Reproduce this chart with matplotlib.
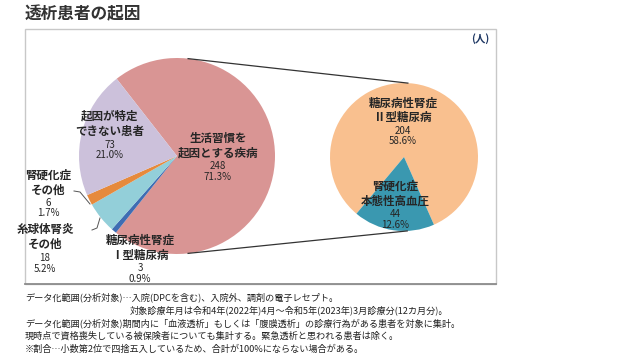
import numpy as np
import matplotlib
matplotlib.use("Agg")
import matplotlib.pyplot as plt
from matplotlib.patches import Rectangle

plt.rcParams['font.family'] = ['Noto Sans CJK JP', 'DejaVu Sans']

# ---- data ----
title = '透析患者の起因'
unit = '(人)'
main_labels = ['生活習慣を\n起因とする疾病', '糖尿病性腎症\nⅠ型糖尿病', '糸球体腎炎\nその他',
               '腎硬化症\nその他', '起因が特定\nできない患者']
main_values = [248, 3, 18, 6, 73]
main_pcts = ['71.3%', '0.9%', '5.2%', '1.7%', '21.0%']
main_colors = ['#D99594', '#3E6DB3', '#93CFD9', '#E68A3C', '#CCC1DB']

sub_labels = ['糖尿病性腎症\nⅡ型糖尿病', '腎硬化症\n本態性高血圧']
sub_values = [204, 44]
sub_pcts = ['58.6%', '12.6%']
sub_colors = ['#F9C08F', '#3A98B0']

notes = [
    'データ化範囲(分析対象)…入院(DPCを含む)、入院外、調剤の電子レセプト。',
    '対象診療年月は令和4年(2022年)4月～令和5年(2023年)3月診療分(12カ月分)。',
    'データ化範囲(分析対象)期間内に「血液透析」もしくは「腹膜透析」の診療行為がある患者を対象に集計。',
    '現時点で資格喪失している被保険者についても集計する。緊急透析と思われる患者は除く。',
    '※割合…小数第2位で四捨五入しているため、合計が100%にならない場合がある。',
]

W, H = 631, 363
def fy(y):
    return H - y

fig = plt.figure(figsize=(W / 100, H / 100), dpi=100)
ax = fig.add_axes([0, 0, 1, 1])

# frame
ax.add_patch(Rectangle((25, fy(284)), 471, 255, fill=False, edgecolor='#C8C8C8', lw=1.0, zorder=0))
ax.plot([25, 496], [fy(284), fy(284)], color='#8C8C8C', lw=1.3, zorder=1)

# main pie
mc = (177, fy(156)); mr = 98
ax.pie(main_values, colors=main_colors, startangle=128, counterclock=False,
       center=mc, radius=mr, wedgeprops=dict(linewidth=0), frame=True)

# sub pie
sc = (404, fy(157)); sr = 74
ax.pie(sub_values, colors=sub_colors, startangle=230, counterclock=False,
       center=sc, radius=sr, wedgeprops=dict(linewidth=0), frame=True)

# connector lines
for a1, a2 in [(83.5, 87), (-83.5, -87.5)]:
    p1 = (mc[0] + mr * np.cos(np.radians(a1)), mc[1] + mr * np.sin(np.radians(a1)))
    p2 = (sc[0] + sr * np.cos(np.radians(a2)), sc[1] + sr * np.sin(np.radians(a2)))
    ax.plot([p1[0], p2[0]], [p1[1], p2[1]], color='#333333', lw=0.9, zorder=3)

txt = '#262626'
def label(x, y_name, y_num, name, value, pct, spacing_name=15, spacing_num=10.5):
    for i, line in enumerate(name.split('\n')):
        ax.text(x, fy(y_name + i * spacing_name), line, ha='center', va='center',
                fontsize=8.3, fontweight='bold', color=txt, zorder=5)
    ax.text(x, fy(y_num), str(value), ha='center', va='center', fontsize=7, color=txt, zorder=5)
    ax.text(x, fy(y_num + spacing_num), pct, ha='center', va='center', fontsize=7, color=txt, zorder=5)

main_pos = [(218, 138, 166), (140, 240, 268), (45, 229, 258), (48, 175, 203), (110, 116, 145)]
for (x, yn, yv), n, v, p in zip(main_pos, main_labels, main_values, main_pcts):
    label(x, yn, yv, n, v, p)

sub_pos = [(403, 103, 131), (395, 186, 214)]
for (x, yn, yv), n, v, p in zip(sub_pos, sub_labels, sub_values, sub_pcts):
    label(x, yn, yv, n, v, p)

# leader lines
ax.plot([74, 80, 90], [fy(191), fy(192), fy(204)], color='#555555', lw=0.7, zorder=4)
ax.plot([92, 97, 100], [fy(230), fy(228), fy(218)], color='#555555', lw=0.7, zorder=4)

# title and unit
ax.text(25, fy(14), title, ha='left', va='center', fontsize=12, fontweight='bold', color='#333333')
ax.text(480, fy(39), unit, ha='center', va='center', fontsize=7.5, fontweight='bold', color='#1F3864')

# notes
note_x = [25, 130, 25, 25, 25]
note_y = [297, 310, 323, 336, 349]
for x, y, t in zip(note_x, note_y, notes):
    ax.text(x, fy(y), t, ha='left', va='center', fontsize=6.6, color='#222222')

ax.set_xlim(0, W)
ax.set_ylim(0, H)
ax.set_aspect('auto')
ax.axis('off')
fig.savefig('out.png', dpi=100, facecolor='white')
